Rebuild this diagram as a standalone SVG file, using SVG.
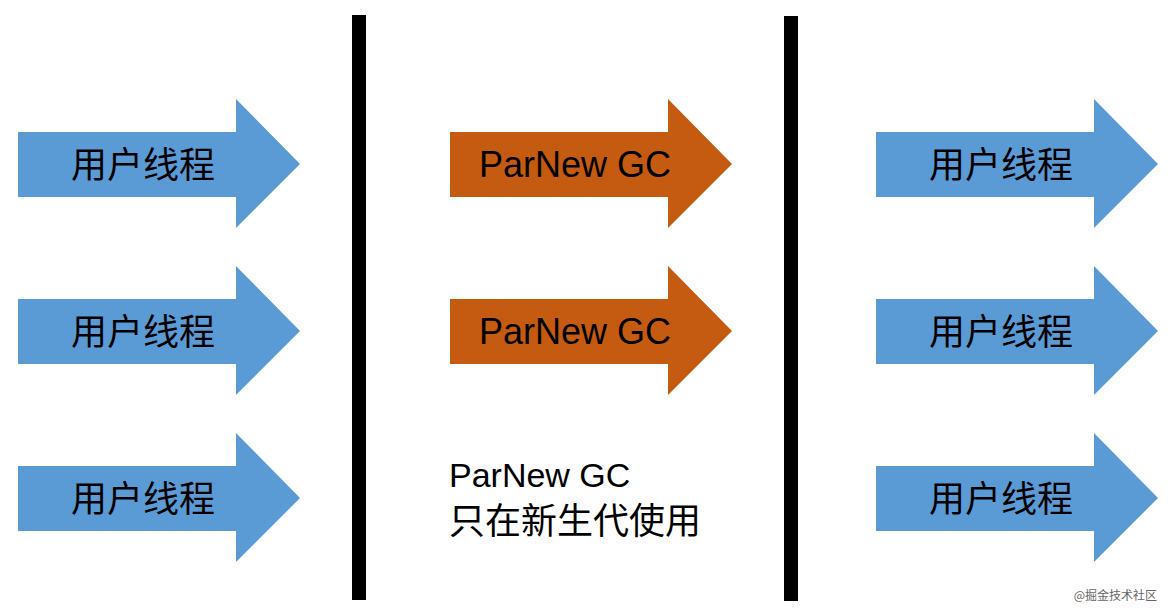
<svg xmlns="http://www.w3.org/2000/svg" width="1170" height="614" viewBox="0 0 1170 614">
<style>
.blue{fill:#5B9BD5}
.orange{fill:#C55A11}
.cjk{font-family:"Noto Sans CJK SC","Liberation Sans",sans-serif;font-size:36px;fill:#000}
.lat{font-family:"Liberation Sans",Arial,sans-serif;font-size:36px;fill:#000}
.bar{fill:#000}
</style>
<defs>
<polygon id="arr" points="0,-32 218,-32 218,-65 282,0 218,64 218,33 0,33"/>
</defs>
<rect width="1170" height="614" fill="#fff"/>
<g id="bars">
<rect class="bar" x="352" y="15" width="14" height="585"/>
<rect class="bar" x="784" y="16" width="14" height="585"/>
</g>
<g id="left1"><use href="#arr" class="blue" x="18" y="164"/><text class="cjk" x="143" y="162" text-anchor="middle" dominant-baseline="central">用户线程</text></g>
<g id="left2"><use href="#arr" class="blue" x="18" y="331"/><text class="cjk" x="143" y="329" text-anchor="middle" dominant-baseline="central">用户线程</text></g>
<g id="left3"><use href="#arr" class="blue" x="18" y="498"/><text class="cjk" x="143" y="496" text-anchor="middle" dominant-baseline="central">用户线程</text></g>
<g id="gc1"><use href="#arr" class="orange" x="450" y="164"/><text class="lat" x="575" y="177" text-anchor="middle">ParNew GC</text></g>
<g id="gc2"><use href="#arr" class="orange" x="450" y="331"/><text class="lat" x="575" y="344" text-anchor="middle">ParNew GC</text></g>
<g id="right1"><use href="#arr" class="blue" x="876" y="164"/><text class="cjk" x="1001" y="162" text-anchor="middle" dominant-baseline="central">用户线程</text></g>
<g id="right2"><use href="#arr" class="blue" x="876" y="331"/><text class="cjk" x="1001" y="329" text-anchor="middle" dominant-baseline="central">用户线程</text></g>
<g id="right3"><use href="#arr" class="blue" x="876" y="498"/><text class="cjk" x="1001" y="496" text-anchor="middle" dominant-baseline="central">用户线程</text></g>
<g id="note">
<text class="lat" x="449" y="487" style="font-size:34px">ParNew GC</text>
<text class="cjk" x="449" y="518" dominant-baseline="central">只在新生代使用</text>
</g>
<g id="connectors"></g>
<text x="1157" y="600" text-anchor="end" style="font-family:'Noto Sans CJK SC',sans-serif;font-size:12px;fill:#666">@掘金技术社区</text>
</svg>
